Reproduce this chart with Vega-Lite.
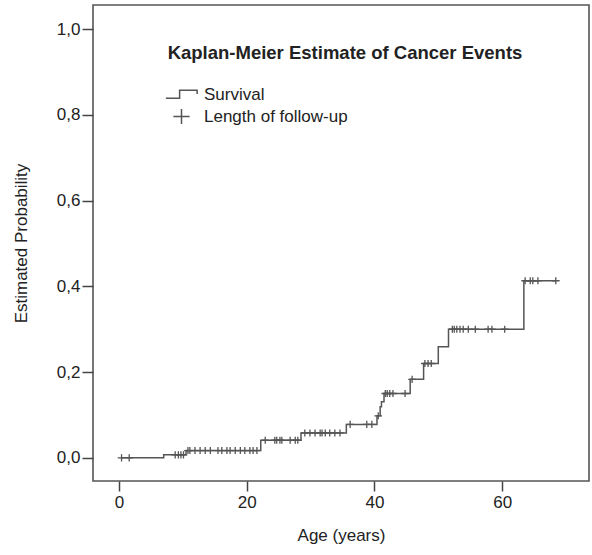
{
  "$schema": "https://vega.github.io/schema/vega-lite/v6.json",
  "width": 496,
  "height": 476,
  "autosize": {"type": "none"},
  "padding": {"left": 93, "top": 5, "right": 3, "bottom": 74},
  "background": "white",
  "config": {
    "font": "Liberation Sans",
    "view": {"stroke": "#555", "strokeWidth": 1.6},
    "axis": {
      "grid": false,
      "domain": false,
      "tickColor": "#444",
      "tickWidth": 1.5,
      "labelFont": "Liberation Sans",
      "labelFontSize": 17,
      "labelColor": "#222",
      "titleFont": "Liberation Sans",
      "titleFontSize": 17,
      "titleFontWeight": "normal",
      "titleColor": "#222"
    }
  },
  "title": {
    "text": "Kaplan-Meier Estimate of Cancer Events",
    "offset": -57,
    "anchor": "middle",
    "frame": "group",
    "font": "Liberation Sans",
    "fontSize": 18.5,
    "fontWeight": "bold",
    "color": "#222",
    "dx": 4
  },
  "datasets": {
    "curve": [
      {"age": 0.3, "p": 0},
      {"age": 7.0, "p": 0.007},
      {"age": 10.5, "p": 0.017},
      {"age": 22.2, "p": 0.041},
      {"age": 28.5, "p": 0.058},
      {"age": 35.6, "p": 0.078},
      {"age": 40.4, "p": 0.098},
      {"age": 40.9, "p": 0.119},
      {"age": 41.1, "p": 0.131},
      {"age": 41.5, "p": 0.15},
      {"age": 45.6, "p": 0.183},
      {"age": 47.7, "p": 0.22},
      {"age": 50.0, "p": 0.259},
      {"age": 51.6, "p": 0.3},
      {"age": 63.4, "p": 0.413},
      {"age": 68.4, "p": 0.413}
    ],
    "censored": [
      {"age": 0.4, "p": 0, "series": "Length of follow-up"},
      {"age": 1.6, "p": 0, "series": "Length of follow-up"},
      {"age": 8.8, "p": 0.007, "series": "Length of follow-up"},
      {"age": 9.3, "p": 0.007, "series": "Length of follow-up"},
      {"age": 9.7, "p": 0.007, "series": "Length of follow-up"},
      {"age": 10.1, "p": 0.007, "series": "Length of follow-up"},
      {"age": 10.8, "p": 0.017, "series": "Length of follow-up"},
      {"age": 11.1, "p": 0.017, "series": "Length of follow-up"},
      {"age": 11.9, "p": 0.017, "series": "Length of follow-up"},
      {"age": 12.7, "p": 0.017, "series": "Length of follow-up"},
      {"age": 13.5, "p": 0.017, "series": "Length of follow-up"},
      {"age": 14.3, "p": 0.017, "series": "Length of follow-up"},
      {"age": 15.5, "p": 0.017, "series": "Length of follow-up"},
      {"age": 16.1, "p": 0.017, "series": "Length of follow-up"},
      {"age": 16.9, "p": 0.017, "series": "Length of follow-up"},
      {"age": 17.4, "p": 0.017, "series": "Length of follow-up"},
      {"age": 18.2, "p": 0.017, "series": "Length of follow-up"},
      {"age": 19.0, "p": 0.017, "series": "Length of follow-up"},
      {"age": 19.7, "p": 0.017, "series": "Length of follow-up"},
      {"age": 20.5, "p": 0.017, "series": "Length of follow-up"},
      {"age": 21.0, "p": 0.017, "series": "Length of follow-up"},
      {"age": 21.6, "p": 0.017, "series": "Length of follow-up"},
      {"age": 22.9, "p": 0.041, "series": "Length of follow-up"},
      {"age": 24.4, "p": 0.041, "series": "Length of follow-up"},
      {"age": 24.7, "p": 0.041, "series": "Length of follow-up"},
      {"age": 25.2, "p": 0.041, "series": "Length of follow-up"},
      {"age": 25.5, "p": 0.041, "series": "Length of follow-up"},
      {"age": 26.8, "p": 0.041, "series": "Length of follow-up"},
      {"age": 27.6, "p": 0.041, "series": "Length of follow-up"},
      {"age": 28.0, "p": 0.041, "series": "Length of follow-up"},
      {"age": 29.1, "p": 0.058, "series": "Length of follow-up"},
      {"age": 29.9, "p": 0.058, "series": "Length of follow-up"},
      {"age": 30.7, "p": 0.058, "series": "Length of follow-up"},
      {"age": 31.5, "p": 0.058, "series": "Length of follow-up"},
      {"age": 31.8, "p": 0.058, "series": "Length of follow-up"},
      {"age": 32.3, "p": 0.058, "series": "Length of follow-up"},
      {"age": 33.0, "p": 0.058, "series": "Length of follow-up"},
      {"age": 33.8, "p": 0.058, "series": "Length of follow-up"},
      {"age": 34.6, "p": 0.058, "series": "Length of follow-up"},
      {"age": 36.2, "p": 0.078, "series": "Length of follow-up"},
      {"age": 38.8, "p": 0.078, "series": "Length of follow-up"},
      {"age": 39.6, "p": 0.078, "series": "Length of follow-up"},
      {"age": 40.6, "p": 0.098, "series": "Length of follow-up"},
      {"age": 41.7, "p": 0.15, "series": "Length of follow-up"},
      {"age": 42.0, "p": 0.15, "series": "Length of follow-up"},
      {"age": 42.4, "p": 0.15, "series": "Length of follow-up"},
      {"age": 42.9, "p": 0.15, "series": "Length of follow-up"},
      {"age": 44.8, "p": 0.15, "series": "Length of follow-up"},
      {"age": 45.9, "p": 0.183, "series": "Length of follow-up"},
      {"age": 47.9, "p": 0.22, "series": "Length of follow-up"},
      {"age": 48.4, "p": 0.22, "series": "Length of follow-up"},
      {"age": 48.9, "p": 0.22, "series": "Length of follow-up"},
      {"age": 52.2, "p": 0.3, "series": "Length of follow-up"},
      {"age": 52.5, "p": 0.3, "series": "Length of follow-up"},
      {"age": 52.9, "p": 0.3, "series": "Length of follow-up"},
      {"age": 53.4, "p": 0.3, "series": "Length of follow-up"},
      {"age": 53.9, "p": 0.3, "series": "Length of follow-up"},
      {"age": 54.7, "p": 0.3, "series": "Length of follow-up"},
      {"age": 55.8, "p": 0.3, "series": "Length of follow-up"},
      {"age": 57.8, "p": 0.3, "series": "Length of follow-up"},
      {"age": 58.4, "p": 0.3, "series": "Length of follow-up"},
      {"age": 60.4, "p": 0.3, "series": "Length of follow-up"},
      {"age": 63.6, "p": 0.413, "series": "Length of follow-up"},
      {"age": 64.4, "p": 0.413, "series": "Length of follow-up"},
      {"age": 64.8, "p": 0.413, "series": "Length of follow-up"},
      {"age": 65.6, "p": 0.413, "series": "Length of follow-up"},
      {"age": 68.4, "p": 0.413, "series": "Length of follow-up"}
    ]
  },
  "layer": [
    {
      "data": {"name": "curve"},
      "mark": {"type": "line", "interpolate": "step-after", "color": "#555", "strokeWidth": 1.5},
      "encoding": {
        "x": {
          "field": "age", "type": "quantitative",
          "scale": {"domain": [-4.07, 73.6], "nice": false, "zero": false},
          "axis": {"title": "Age (years)", "values": [0, 20, 40, 60], "tickSize": 10, "labelPadding": 3, "titlePadding": 17}
        },
        "y": {
          "field": "p", "type": "quantitative",
          "scale": {"domain": [-0.054, 1.056], "nice": false, "zero": false},
          "axis": {
            "title": "Estimated Probability",
            "values": [0, 0.2, 0.4, 0.6, 0.8, 1.0],
            "labelExpr": "replace(format(datum.value, '.1f'), '.', ',')",
            "tickSize": 11, "labelPadding": 2, "titlePadding": 26
          }
        }
      }
    },
    {
      "data": {"name": "censored"},
      "mark": {"type": "point", "filled": false, "color": "#555", "strokeWidth": 1.3, "size": 140, "opacity": 1},
      "encoding": {
        "x": {"field": "age", "type": "quantitative"},
        "y": {"field": "p", "type": "quantitative"},
        "shape": {
          "field": "series", "type": "nominal",
          "scale": {
            "domain": ["Survival", "Length of follow-up"],
            "range": ["M-1.25,0.3H-0.15V-0.35H1.25V-0.05", "M-0.65,0H0.65M0,-0.6V0.6"]
          },
          "legend": {
            "title": null,
            "orient": "none",
            "legendX": 75,
            "legendY": 76,
            "symbolSize": 625,
            "symbolStrokeColor": "#555",
            "symbolFillColor": "transparent",
            "symbolStrokeWidth": 1.5,
            "symbolOpacity": 1,
            "labelFont": "Liberation Sans",
            "labelFontSize": 17,
            "labelColor": "#222",
            "labelOffset": 9,
            "rowPadding": 0
          }
        }
      }
    }
  ]
}
